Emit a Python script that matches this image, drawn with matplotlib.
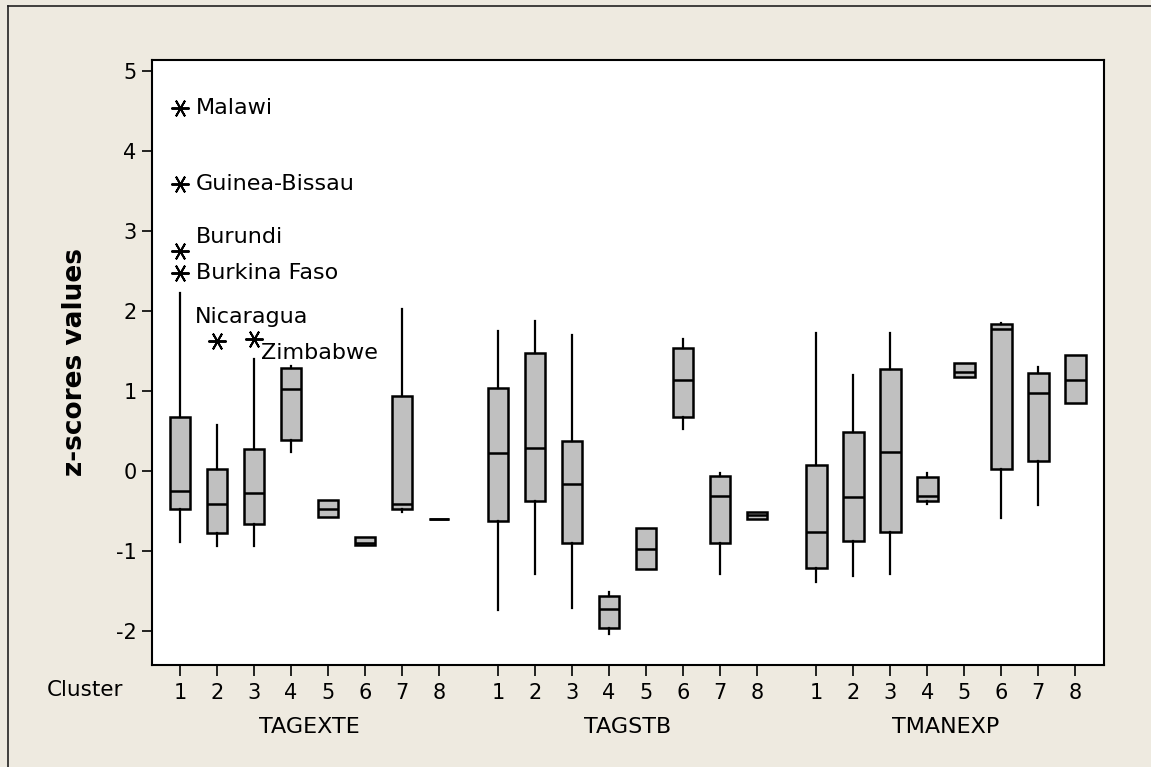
import numpy as np
import matplotlib
matplotlib.use('Agg')
import matplotlib.pyplot as plt
from matplotlib.lines import Line2D

plt.rcParams['font.family'] = ['DejaVu Sans']

# box statistics, clusters 1..8 in each variable
groups = ['TAGEXTE', 'TAGSTB', 'TMANEXP']
clusters = ['1', '2', '3', '4', '5', '6', '7', '8']

tagexte_lo  = [-0.89, -0.94, -0.94, 0.24, -0.58, -0.93, -0.51, -0.60]
tagexte_q1  = [-0.48, -0.78, -0.66, 0.39, -0.58, -0.93, -0.48, -0.60]
tagexte_med = [-0.25, -0.41, -0.28, 1.02, -0.48, -0.90, -0.41, -0.60]
tagexte_q3  = [0.675, 0.02, 0.27, 1.29, -0.36, -0.83, 0.94, -0.60]
tagexte_hi  = [2.23, 0.57, 1.40, 1.31, -0.36, -0.82, 2.02, -0.60]

tagstb_lo  = [-1.74, -1.29, -1.71, -2.04, -1.23, 0.53, -1.29, -0.60]
tagstb_q1  = [-0.63, -0.38, -0.90, -1.96, -1.23, 0.67, -0.90, -0.60]
tagstb_med = [0.22, 0.29, -0.16, -1.73, -0.98, 1.14, -0.31, -0.55]
tagstb_q3  = [1.04, 1.47, 0.37, -1.56, -0.71, 1.54, -0.06, -0.51]
tagstb_hi  = [1.75, 1.87, 1.70, -1.51, -0.71, 1.65, -0.03, -0.51]

tmanexp_lo  = [-1.39, -1.31, -1.29, -0.41, 1.17, -0.59, -0.42, 0.85]
tmanexp_q1  = [-1.21, -0.88, -0.76, -0.38, 1.17, 0.02, 0.12, 0.85]
tmanexp_med = [-0.76, -0.33, 0.24, -0.31, 1.24, 1.77, 0.97, 1.14]
tmanexp_q3  = [0.07, 0.49, 1.27, -0.08, 1.35, 1.84, 1.22, 1.45]
tmanexp_hi  = [1.725, 1.20, 1.725, -0.03, 1.35, 1.85, 1.30, 1.45]

# outliers (all in TAGEXTE)
outlier_cluster = [1, 1, 1, 1, 2, 3]
outlier_value = [4.54, 3.59, 2.75, 2.48, 1.62, 1.65]
outlier_name = ['Malawi', 'Guinea-Bissau', 'Burundi', 'Burkina Faso', 'Nicaragua', 'Zimbabwe']

stats_by_group = [
    (tagexte_lo, tagexte_q1, tagexte_med, tagexte_q3, tagexte_hi),
    (tagstb_lo, tagstb_q1, tagstb_med, tagstb_q3, tagstb_hi),
    (tmanexp_lo, tmanexp_q1, tmanexp_med, tmanexp_q3, tmanexp_hi),
]

bg = '#EEEAE0'
W, H = 1151, 767
fig = plt.figure(figsize=(W / 100, H / 100), dpi=100, facecolor=bg)
ax = fig.add_axes([152 / W, (H - 665) / H, (1104 - 152) / W, (665 - 60) / H])
ax.set_facecolor('white')

gap = 8.6
stats = []
positions = []
for g, (lo, q1, med, q3, hi) in enumerate(stats_by_group):
    for i in range(len(clusters)):
        stats.append({'whislo': lo[i], 'q1': q1[i], 'med': med[i],
                      'q3': q3[i], 'whishi': hi[i], 'fliers': []})
        positions.append(i + g * gap)

ax.bxp(stats, positions=positions, widths=0.56, patch_artist=True,
       showcaps=False, showfliers=False,
       boxprops=dict(facecolor='#C0C0C0', edgecolor='black', linewidth=1.8),
       medianprops=dict(color='black', linewidth=1.8),
       whiskerprops=dict(color='black', linewidth=1.6))

# outlier stars (six-armed, horizontal arm) and labels
label_off = {'Malawi': (0.42, 0.0), 'Guinea-Bissau': (0.42, 0.0),
             'Burundi': (0.42, 0.18), 'Burkina Faso': (0.42, 0.0),
             'Nicaragua': (-0.6, 0.31), 'Zimbabwe': (0.18, -0.18)}
for c, v, n in zip(outlier_cluster, outlier_value, outlier_name):
    ax.plot(c - 1, v, marker=(6, 2, 90), color='black', markersize=13,
            markeredgewidth=1.4, linestyle='none')
    dx, dy = label_off[n]
    ax.text(c - 1 + dx, v + dy, n, fontsize=16, ha='left', va='center')

ax.set_xlim(positions[0] - 0.757, positions[-1] + 0.78)
ax.set_ylim(-2.425, 5.1375)
ax.set_yticks([-2, -1, 0, 1, 2, 3, 4, 5])
ax.set_yticklabels(['-2', '-1', '0', '1', '2', '3', '4', '5'])
ax.set_xticks(positions)
ax.set_xticklabels(clusters * 3)
ax.tick_params(axis='x', direction='out', length=8, width=1.2, pad=5, labelsize=15)
ax.tick_params(axis='y', direction='out', length=7, width=1.2, pad=4, labelsize=15)
for s in ax.spines.values():
    s.set_linewidth(1.5)

ax.set_ylabel('z-scores values', fontsize=19, fontweight='bold', labelpad=20)

# row label and variable names under the ticks
trans = ax.get_xaxis_transform()
ax.text(positions[0] - 2.57, -0.0413, 'Cluster', transform=trans, fontsize=15.5,
        ha='center', va='center')
for g, name in enumerate(groups):
    xc = np.mean(positions[g * 8:(g + 1) * 8])
    ax.text(xc, -0.1025, name, transform=trans, fontsize=16, ha='center', va='center')

# outer frame
fig.add_artist(Line2D([8 / W, 1], [1 - 6 / H, 1 - 6 / H], color='#222222', lw=1.2))
fig.add_artist(Line2D([8 / W, 8 / W], [0, 1 - 6 / H], color='#222222', lw=1.2))

fig.savefig('out.png', dpi=100, facecolor=bg)
